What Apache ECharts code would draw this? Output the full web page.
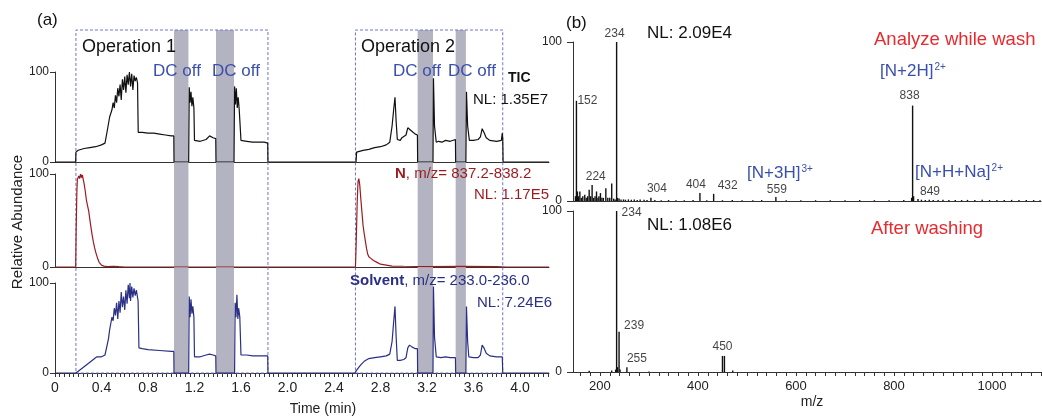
<!DOCTYPE html>
<html><head><meta charset="utf-8">
<script src="https://cdn.jsdelivr.net/npm/echarts@6/dist/echarts.min.js"></script>
<style>html,body{margin:0;padding:0;background:#fff}#c{width:1042px;height:417px}</style>
</head><body><div id="c"></div>
<script>
// ---------- DATA ----------
const timeTickLabels = [0, 0.4, 0.8, 1.2, 1.6, 2.0, 2.4, 2.8, 3.2, 3.6, 4.0];
const mzTickLabels = [200, 400, 600, 800, 1000];
const dcOffBands = [[1.024, 1.148], [1.385, 1.54], [3.12, 3.252], [3.447, 3.535]];
const operationBoxes = [[0.18, 1.832], [2.585, 3.852]];

const ticData = [[0,0],[0.178,0],[0.18,11],[0.2,13],[0.25,15],[0.3,16],[0.35,17],[0.4,19],[0.43,21],[0.45,35],[0.47,50],[0.49,58],[0.5,66],[0.51,60],[0.52,74],[0.53,66],[0.54,82],[0.55,73],[0.56,86],[0.57,69],[0.58,92],[0.59,80],[0.6,95],[0.61,77],[0.62,97],[0.63,86],[0.64,100],[0.65,84],[0.66,98],[0.67,80],[0.68,96],[0.69,90],[0.7,94],[0.71,88],[0.716,33],[0.75,33],[0.8,32],[0.85,32],[0.9,31],[0.95,30],[1.0,29],[1.022,29],[1.024,0],[1.15,0],[1.155,83],[1.162,66],[1.17,78],[1.178,62],[1.186,72],[1.195,60],[1.2,24],[1.25,23],[1.3,25],[1.33,29],[1.36,27],[1.383,26],[1.385,0],[1.54,0],[1.545,84],[1.552,64],[1.56,82],[1.568,60],[1.576,72],[1.585,58],[1.6,24],[1.65,23],[1.7,22],[1.75,22],[1.8,22],[1.83,21],[1.832,0],[2.59,0],[2.595,11],[2.65,13],[2.7,14],[2.75,16],[2.8,17],[2.85,19],[2.88,22],[2.9,40],[2.915,60],[2.925,72],[2.935,45],[2.945,25],[2.97,24],[2.985,27],[3.0,26],[3.02,30],[3.035,38],[3.05,36],[3.08,33],[3.1,31],[3.118,30],[3.12,0],[3.252,0],[3.256,93],[3.265,40],[3.28,22],[3.3,23],[3.33,22],[3.36,24],[3.4,23],[3.445,25],[3.447,0],[3.535,0],[3.54,78],[3.55,40],[3.565,24],[3.6,24],[3.64,25],[3.66,28],[3.675,37],[3.69,33],[3.71,27],[3.74,24],[3.8,23],[3.84,24],[3.848,32],[3.852,26],[3.855,0],[4.25,0]];

const nData = [[0,0],[0.178,0],[0.182,40],[0.188,80],[0.192,94],[0.198,92],[0.205,98],[0.212,95],[0.22,100],[0.228,96],[0.235,99],[0.242,97],[0.25,90],[0.26,82],[0.27,72],[0.28,66],[0.29,60],[0.3,51],[0.31,42],[0.32,34],[0.33,27],[0.34,21],[0.35,16],[0.36,12],[0.37,8],[0.38,5],[0.39,3],[0.4,2],[0.42,1],[0.45,0.5],[0.5,0.8],[0.55,0.3],[0.6,0],[2.585,0],[2.59,20],[2.6,70],[2.607,92],[2.614,95],[2.622,88],[2.63,75],[2.64,60],[2.65,45],[2.66,36],[2.67,28],[2.68,20],[2.69,14],[2.7,11],[2.72,9],[2.74,7],[2.77,5],[2.8,3],[2.85,2],[2.9,1],[3.0,0.8],[3.2,0.5],[3.5,0.6],[3.8,0.5],[3.88,0],[4.25,0]];

const solventData = [[0,0],[0.178,0],[0.2,2],[0.25,7],[0.3,12],[0.33,15],[0.36,18],[0.4,18],[0.43,20],[0.445,22],[0.46,38],[0.47,48],[0.48,55],[0.49,62],[0.5,58],[0.51,72],[0.52,64],[0.53,78],[0.54,60],[0.55,80],[0.56,67],[0.57,90],[0.58,73],[0.59,85],[0.6,70],[0.61,92],[0.62,77],[0.63,98],[0.64,83],[0.645,100],[0.65,80],[0.66,96],[0.67,84],[0.68,94],[0.69,86],[0.7,92],[0.715,80],[0.722,28],[0.75,27],[0.8,26],[0.9,25],[1.0,24],[1.022,24],[1.024,0],[1.15,0],[1.155,85],[1.162,62],[1.17,82],[1.178,66],[1.186,74],[1.195,62],[1.2,18],[1.25,18],[1.3,20],[1.33,21],[1.36,20],[1.383,19],[1.385,0],[1.545,0],[1.55,78],[1.557,62],[1.565,87],[1.573,60],[1.58,72],[1.59,62],[1.6,20],[1.65,20],[1.7,19],[1.8,19],[1.83,19],[1.832,0],[2.58,0],[2.6,4],[2.63,9],[2.66,13],[2.7,16],[2.75,17],[2.8,18],[2.85,19],[2.88,21],[2.9,35],[2.91,51],[2.925,74],[2.935,40],[2.945,14],[2.97,14],[3.0,15],[3.02,17],[3.035,28],[3.05,31],[3.07,29],[3.1,27],[3.118,27],[3.12,0],[3.252,0],[3.256,96],[3.265,40],[3.28,18],[3.32,17],[3.36,18],[3.4,17],[3.445,17],[3.447,0],[3.535,0],[3.54,74],[3.55,35],[3.56,18],[3.6,17],[3.64,17],[3.66,20],[3.675,31],[3.69,28],[3.71,22],[3.74,19],[3.8,18],[3.848,18],[3.852,0],[4.25,0]];

const msWashData = [[150,3],[152,63],[154,6],[156,3],[159,6],[162,2],[165,3],[169,4],[172,2],[175,3],[178,7],[181,3],[184,10],[187,2],[190,3],[193,6],[196,2],[198,3],[201,5],[204,2],[207,2],[212,8],[216,2],[220,2],[224,11],[228,1.5],[231,1],[234,100],[236,2],[239,1.5],[243,1],[248,1],[252,0.8],[258,1],[264,0.8],[270,1],[276,0.7],[282,1],[290,0.8],[296,0.6],[304,2],[312,0.6],[325,0.5],[340,0.6],[355,0.5],[372,0.5],[390,0.6],[404,5],[418,0.5],[432,4.5],[450,0.5],[470,0.6],[490,0.5],[512,0.5],[530,0.6],[559,2.5],[580,0.5],[610,0.5],[640,0.5],[670,0.5],[700,0.5],[730,0.6],[760,0.5],[790,0.5],[820,0.6],[836,2],[838,60],[840,3],[849,1.2],[856,0.8],[864,0.6],[872,0.8],[880,0.6],[890,0.7],[900,0.8],[912,0.6],[925,0.7],[938,0.6],[950,0.7],[965,0.6],[980,0.8],[995,0.6],[1010,0.7],[1025,0.6],[1040,0.7],[1055,0.6],[1070,0.7],[1085,0.6],[1098,0.5]];

const msAfterData = [[178,0.8],[224,1],[232,1.5],[234,100],[236,3],[239,25],[241,1.5],[255,3],[300,0.3],[450,10],[454,10],[471,1]];

const washPeakLabels = [152, 234, 224, 304, 404, 432, 559, 838, 849];
const washPeakHeights = [63, 100, 11, 2, 5, 4.5, 2.5, 60, 1.2];
const afterPeakLabels = [234, 239, 255, 450];
const afterPeakHeights = [100, 25, 3, 10];

// ---------- STYLE ----------
const FF = '"Liberation Sans", Arial, sans-serif';
const AX = '#333';
const washOffsets = {152:[11,0],234:[-2,-8],224:[-16,-7],304:[6,-9],404:[-4,-8],432:[14,-8],559:[1,-7],838:[-3,-10],849:[12,-7]};
const afterOffsets = {234:[15,2],239:[15,-6],255:[10,-8],450:[0,-9]};

const chart = echarts.init(document.getElementById('c'), null, {renderer: 'canvas'});

const timeTicks = []; for (let i = 0; i <= 106; i++) timeTicks.push(Math.round(i * 4) / 100);
const mzTicks = []; for (let m = 160; m <= 1100; m += 20) mzTicks.push(m);

function leftX(idx, showLabels) {
  return {
    type: 'value', gridIndex: idx, min: 0, max: 4.25,
    axisLine: {show: true, onZero: false, lineStyle: {color: AX, width: 1}},
    axisTick: showLabels ? {show: true, length: 4, customValues: timeTicks, lineStyle: {color: AX}} : {show: false},
    axisLabel: showLabels ? {show: true, customValues: timeTickLabels, fontFamily: FF, fontSize: 14, color: '#222', margin: 8,
      formatter: v => v === 0 ? '0' : v.toFixed(1)} : {show: false},
    splitLine: {show: false}
  };
}
function yAx(idx, margin, tickLen) {
  return {
    type: 'value', gridIndex: idx, min: 0, max: 100, interval: 100,
    axisLine: {show: true, lineStyle: {color: AX, width: 1}},
    axisTick: {show: true, length: tickLen, lineStyle: {color: AX}},
    axisLabel: {fontFamily: FF, fontSize: 12, color: '#222', margin: margin},
    splitLine: {show: false}
  };
}

const xAxes = [
  {type: 'value', gridIndex: 0, min: 0, max: 4.25, show: false},
  leftX(1, false), leftX(2, false), leftX(3, true),
  {type: 'value', gridIndex: 4, min: 145, max: 1100,
   axisLine: {show: true, onZero: false, lineStyle: {color: AX}}, axisTick: {show: false}, axisLabel: {show: false}, splitLine: {show: false}},
  {type: 'value', gridIndex: 5, min: 145, max: 1100,
   axisLine: {show: true, onZero: false, lineStyle: {color: AX}},
   axisTick: {show: true, length: 4, customValues: mzTicks, lineStyle: {color: AX}},
   axisLabel: {show: true, customValues: mzTickLabels, fontFamily: FF, fontSize: 13, color: '#222', margin: 8,
     formatter: v => String(v)},
   splitLine: {show: false}}
];
const yAxes = [
  {type: 'value', gridIndex: 0, min: 0, max: 1, show: false},
  yAx(1, 6, 5), yAx(2, 6, 5), yAx(3, 6, 5), yAx(4, 11, 6), yAx(5, 11, 6)
];

const grids = [
  {left: 55, right: 493, top: 30, bottom: 44},
  {left: 55, right: 493, top: 72, bottom: 255},
  {left: 55, right: 493, top: 174, bottom: 150},
  {left: 55, right: 493, top: 283, bottom: 44},
  {left: 573, right: 1, top: 42, bottom: 216},
  {left: 573, right: 1, top: 211, bottom: 45}
];

function lineSeries(idx, data, color) {
  return {type: 'line', xAxisIndex: idx, yAxisIndex: idx, data: data, showSymbol: false, symbol: 'none',
    lineStyle: {color: color, width: 1.2}, z: 3, animation: false};
}
function stickSeries(idx, data) {
  return {type: 'bar', xAxisIndex: idx, yAxisIndex: idx, data: data, barWidth: 1.4, barGap: '-100%',
    itemStyle: {color: '#111'}, z: 3, animation: false};
}
function labelSeries(idx, labels, heights, offsets) {
  return {type: 'scatter', xAxisIndex: idx, yAxisIndex: idx, symbolSize: 0, z: 5, animation: false, silent: true,
    data: labels.map((m, i) => ({value: [m, heights[i]], name: String(m),
      label: {show: true, position: 'inside', offset: offsets[m], formatter: String(m),
        fontFamily: FF, fontSize: 12, color: '#111'}})),
    clip: false};
}

const series = [
  {type: 'line', xAxisIndex: 0, yAxisIndex: 0, data: [], z: 1, silent: true, animation: false,
   markArea: {silent: true, itemStyle: {color: '#b3b3c1'},
     data: dcOffBands.map(b => [{xAxis: b[0], yAxis: 0}, {xAxis: b[1], yAxis: 1}])}},
  {type: 'line', xAxisIndex: 0, yAxisIndex: 0, data: [], z: 6, silent: true, animation: false,
   markArea: {silent: true, itemStyle: {color: 'rgba(0,0,0,0)', borderColor: '#6f73cc', borderWidth: 1, borderType: [3, 2]},
     data: operationBoxes.map(b => [{xAxis: b[0], yAxis: 0}, {xAxis: b[1], yAxis: 1}])}},
  lineSeries(1, ticData, '#111111'),
  lineSeries(2, nData, '#9b1b1f'),
  lineSeries(3, solventData, '#2b2f86'),
  stickSeries(4, msWashData),
  stickSeries(5, msAfterData),
  labelSeries(4, washPeakLabels, washPeakHeights, washOffsets),
  labelSeries(5, afterPeakLabels, afterPeakHeights, afterOffsets)
];

function txt(text, x, y, size, color, opts) {
  opts = opts || {};
  const st = {text: text, x: x, y: y, fill: color,
    font: (opts.bold ? 'bold ' : '') + size + 'px ' + FF,
    align: opts.align || 'left', verticalAlign: 'middle',
    textAlign: opts.align || 'left', textVerticalAlign: 'middle'};
  if (opts.rich) st.rich = opts.rich;
  const el = {type: 'text', z: 100, silent: true, style: st};
  if (opts.rotation) { el.rotation = opts.rotation; el.x = x; el.y = y; st.x = 0; st.y = 0; }
  return el;
}
const BLUE = '#3a4fae', RED = '#e8292e', DRED = '#9b1b1f', NAVY = '#2b2f86';
function supRich(color) {
  return {sup: {fontSize: 10, fontFamily: FF, fill: color, color: color, verticalAlign: 'top', padding: [0, 0, 0, 1]}};
}
function boldRich(color, size) {
  return {b: {fontWeight: 'bold', fontSize: size, fontFamily: FF, fill: color, color: color}};
}

const graphics = [
  txt('(a)', 37, 20, 17, '#111'),
  txt('Operation 1', 82, 47, 18, '#111'),
  txt('Operation 2', 361, 47, 18, '#111'),
  txt('DC off', 153, 71, 17, BLUE),
  txt('DC off', 212, 71, 17, BLUE),
  txt('DC off', 393, 71, 17, BLUE),
  txt('DC off', 448, 71, 17, BLUE),
  txt('TIC', 508, 78, 14, '#111', {bold: true}),
  txt('NL: 1.35E7', 473, 100, 15, '#111'),
  txt('{b|N}, m/z= 837.2-838.2', 395, 174, 15, DRED, {rich: boldRich(DRED, 15)}),
  txt('NL: 1.17E5', 474, 195, 15, DRED),
  txt('{b|Solvent}, m/z= 233.0-236.0', 350, 281, 15, NAVY, {rich: boldRich(NAVY, 15)}),
  txt('NL: 7.24E6', 477, 303, 15, NAVY),
  txt('Relative Abundance', 18, 222, 15, '#222', {align: 'center', rotation: Math.PI / 2}),
  txt('Time (min)', 323, 409, 14, '#222', {align: 'center'}),
  txt('(b)', 566, 23, 17, '#111'),
  txt('NL: 2.09E4', 647, 33, 17, '#111'),
  txt('Analyze while wash', 874, 40, 18.5, RED),
  txt('[N+2H]{sup|2+}', 880, 71, 17, BLUE, {rich: supRich(BLUE)}),
  txt('[N+3H]{sup|3+}', 747, 173, 17, BLUE, {rich: supRich(BLUE)}),
  txt('[N+H+Na]{sup|2+}', 915, 172, 17, BLUE, {rich: supRich(BLUE)}),
  txt('NL: 1.08E6', 647, 225, 17, '#111'),
  txt('After washing', 871, 229, 18.5, RED),
  txt('m/z', 812, 402, 14, '#222', {align: 'center'})
];

chart.setOption({
  animation: false,
  backgroundColor: '#fff',
  grid: grids,
  xAxis: xAxes,
  yAxis: yAxes,
  series: series,
  graphic: {elements: graphics}
});
</script></body></html>
